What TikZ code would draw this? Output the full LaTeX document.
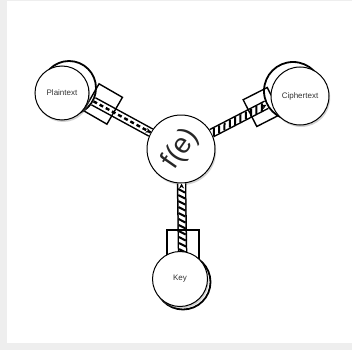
\documentclass[tikz,border=0pt]{standalone}
\usepackage{fontspec}
\setmainfont{Liberation Sans}
\usetikzlibrary{decorations.markings,shadows,arrows.meta}
\definecolor{bggray}{RGB}{238,238,238}
\begin{document}
\begin{tikzpicture}[x=1pt,y=-1pt,
  circ/.style={circle, draw, line width=1pt, fill=white, inner sep=0pt,
    font=\fontsize{8}{9}\selectfont, text=black!80,
    drop shadow={opacity=0.35, shadow xshift=1.2pt, shadow yshift=-2pt}},
  backcirc/.style={circle, draw, line width=1.8pt, fill=white, inner sep=0pt},
  boxrect/.style={draw, line width=1.4pt, inner sep=0pt},
  band/.style={draw, line width=1.5pt, double=white, double distance=6.5pt},
  slashes/.style={decorate, decoration={markings,
    mark=between positions 0.04 and 0.96 step 6pt with
      {\draw[line width=2pt] (-1.8pt,-3.4pt) -- (1.8pt,3.4pt);},
    mark=at position 1 with {\arrow[line width=0.6pt]{Stealth[length=5pt,width=5pt]}}}},
  middash/.style={draw, line width=2.4pt, dash pattern=on 4pt off 3pt},
  tipend/.style={decorate, decoration={markings,
    mark=at position 1 with {\arrow{Stealth[length=5pt,width=5pt]}}}},
]
\useasboundingbox (0,0) rectangle (352,350);
\fill[bggray] (0,0) rectangle (352,350);
\fill[white] (7,1) rectangle (352,343);

% back circles
\node[backcirc, minimum size=54pt] (ptb) at (69,88) {};
\node[backcirc, minimum size=58pt] (ctb) at (293,91) {};
\node[backcirc, minimum size=55pt] (kyb) at (183,282) {};

% central function
\node[circ, minimum size=68pt] (fe) at (181,149) {};
\node[rotate=55, font=\fontsize{28}{28}\selectfont, text=black!85] (fetxt) at (fe) {f(e)};

% connectors
\draw[band] (ptb) -- (fe);
\path[middash] (ptb) -- (fe);
\path[tipend] (ptb) -- (fe);
\draw[band] (fe) -- (ctb);
\path[slashes] (fe) -- (ctb);
\draw[band] (kyb) -- (fe);
\path[slashes] (kyb) -- (fe);

% boxes
\node[boxrect, minimum width=27pt, minimum height=31pt, rotate=-30] (ptbox) at (103,104) {};
\node[boxrect, minimum width=27pt, minimum height=30pt, rotate=27] (ctbox) at (262,107) {};
\node[boxrect, minimum width=32pt, minimum height=32pt] (kybox) at (183,246) {};

% front circles
\node[circ, minimum size=54pt] (pt) at (62,93) {Plaintext};
\node[circ, minimum size=58pt] (ct) at (300,96) {Ciphertext};
\node[circ, minimum size=55pt] (ky) at (180,279) {Key};
\end{tikzpicture}
\end{document}
